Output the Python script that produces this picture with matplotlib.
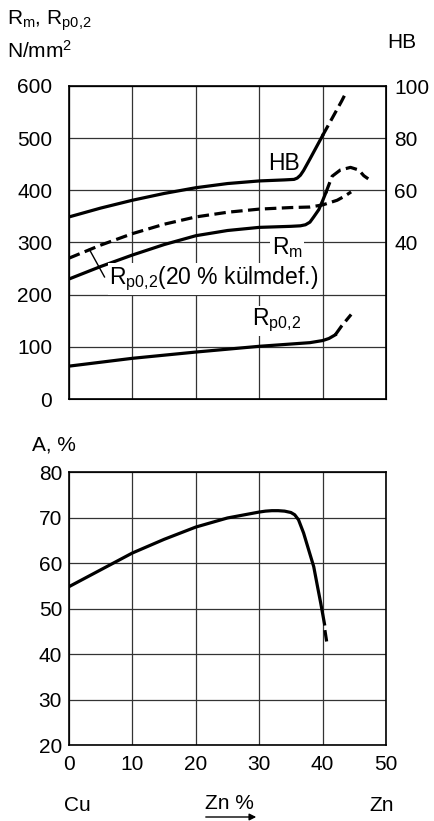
import matplotlib
matplotlib.use("Agg")
import matplotlib.pyplot as plt

plt.rcParams['font.family'] = ['Liberation Sans', 'DejaVu Sans']
plt.rcParams['mathtext.fontset'] = 'custom'
plt.rcParams['mathtext.rm'] = 'Liberation Sans'
plt.rcParams['mathtext.it'] = 'Liberation Sans:italic'

# Zn content, % (x) and the curves
hb_x = [0, 5, 10, 15, 20, 25, 30, 34, 35.5, 36, 36.5, 37, 38, 39, 40]
hb_y = [49.8, 53.2, 56.2, 58.8, 61.0, 62.6, 63.6, 64.0, 64.2, 64.7, 65.8, 67.6, 72.0, 76.5, 81.0]
hb_dash_x = [40, 41, 42, 43, 43.8]
hb_dash_y = [81.0, 85.4, 89.8, 94.2, 98.0]

rm_x = [0, 5, 10, 15, 20, 25, 30, 35, 36.5, 37.3, 38, 38.6, 39.4, 40, 40.5]
rm_y = [230, 254, 276, 296, 313, 323, 329, 331, 332, 334, 339, 349, 363, 380, 395]
rm_dash_x = [40.5, 41.5, 42.8, 44.4, 45.7, 46.5, 47.2]
rm_dash_y = [395, 427, 439, 444, 439, 428, 422]

rp20_x = [0, 5, 10, 15, 20, 25, 30, 35, 38, 40, 42.3, 43.5, 44.5]
rp20_y = [270, 295, 317, 335, 349, 358, 364, 367, 368, 372, 381, 389, 397]

rp_x = [0, 10, 20, 30, 38, 40, 41, 42]
rp_y = [63, 78, 90, 101, 108, 112, 116, 123]
rp_dash_x = [42, 43, 44.5]
rp_dash_y = [123, 140, 162]

a_x = [0, 5, 10, 15, 20, 25, 30, 31, 32, 33, 34, 35, 35.6, 36.2, 37.0, 37.8, 38.6, 39.2, 39.7, 40.3]
a_y = [54.8, 58.5, 62.2, 65.2, 67.9, 69.9, 71.2, 71.4, 71.5, 71.5, 71.4, 71.1, 70.6, 69.5, 66.6, 62.9, 59.2, 54.8, 51.2, 46.6]
a_dash_x = [40.4, 40.6]
a_dash_y = [44.9, 43.1]

x_ticks = [0, 10, 20, 30, 40, 50]
left_ticks = [0, 100, 200, 300, 400, 500, 600]
hb_ticks = [40, 60, 80, 100]
a_ticks = [20, 30, 40, 50, 60, 70, 80]

W, H = 435, 821
fig = plt.figure(figsize=(W / 100, H / 100), dpi=100)

def ax_rect(l, t, r, b):
    return [l / W, 1 - b / H, (r - l) / W, (b - t) / H]

FS = 15
LFS = 16.5
LW = 2.3
DASH = (3.6, 1.7)
GRID = dict(color='#333333', linewidth=0.9)

# top chart
ax = fig.add_axes(ax_rect(69, 86, 386, 399))
ax.set_xlim(0, 50)
ax.set_ylim(0, 600)
ax.set_xticks(x_ticks)
ax.set_yticks(left_ticks)
ax.grid(True, **GRID)
ax.tick_params(axis='y', length=0, pad=12, labelsize=FS)
ax.tick_params(axis='x', length=0, labelbottom=False)
for s in ax.spines.values():
    s.set_linewidth(1.2)

ax.plot(rm_x, rm_y, color='black', lw=LW)
ax.plot(rm_dash_x, rm_dash_y, color='black', lw=LW, dashes=DASH)
ax.plot(rp20_x, rp20_y, color='black', lw=LW, dashes=DASH)
ax.plot(rp_x, rp_y, color='black', lw=LW)
ax.plot(rp_dash_x, rp_dash_y, color='black', lw=LW, dashes=DASH)

box = dict(facecolor='white', edgecolor='none', pad=1)
ax.text(33.9, 452, 'HB', fontsize=LFS, ha='center', va='center')
ax.text(34.4, 291, r'R$_\mathrm{m}$', fontsize=LFS, ha='center', va='center', bbox=box)
ax.text(6.3, 230, r'R$_\mathrm{p0{,}2}$(20 % külmdef.)', fontsize=LFS, ha='left', va='center', bbox=box)
ax.plot([3.2, 5.6], [287, 234], color='black', lw=1.0)
ax.text(32.7, 150, r'R$_\mathrm{p0{,}2}$', fontsize=LFS, ha='center', va='center', bbox=box)

ax2 = ax.twinx()
ax2.set_ylim(-20, 100)
ax2.set_yticks(hb_ticks)
ax2.tick_params(axis='y', length=0, pad=6, labelsize=FS)
ax2.plot(hb_x, hb_y, color='black', lw=LW)
ax2.plot(hb_dash_x, hb_dash_y, color='black', lw=LW, dashes=DASH)

# bottom chart
bx = fig.add_axes(ax_rect(69, 472, 386, 745))
bx.set_xlim(0, 50)
bx.set_ylim(20, 80)
bx.set_xticks(x_ticks)
bx.set_yticks(a_ticks)
bx.grid(True, **GRID)
bx.tick_params(axis='y', length=0, pad=5, labelsize=FS)
bx.tick_params(axis='x', length=0, pad=7, labelsize=FS)
for s in bx.spines.values():
    s.set_linewidth(1.2)
bx.plot(a_x, a_y, color='black', lw=LW)
bx.plot(a_dash_x, a_dash_y, color='black', lw=LW)

def ftext(x, y, s, **kw):
    fig.text(x / W, 1 - y / H, s, fontsize=FS, va='center', **kw)

ftext(7, 21, r'R$_\mathrm{m}$, R$_\mathrm{p0{,}2}$', ha='left')
ftext(7, 51, r'N/mm$^2$', ha='left')
ftext(402, 42, 'HB', ha='center')
ftext(32, 445, 'A, %', ha='left')
ftext(77.5, 805, 'Cu', ha='center')
ftext(229, 803, 'Zn %', ha='center')
ftext(381.5, 805, 'Zn', ha='center')
fig.add_artist(matplotlib.patches.FancyArrowPatch(
    (203 / W, 1 - 817 / H), (259 / W, 1 - 817 / H), transform=fig.transFigure,
    arrowstyle='-|>', mutation_scale=10, color='black', lw=1.0))

fig.savefig('out.png', dpi=100)
